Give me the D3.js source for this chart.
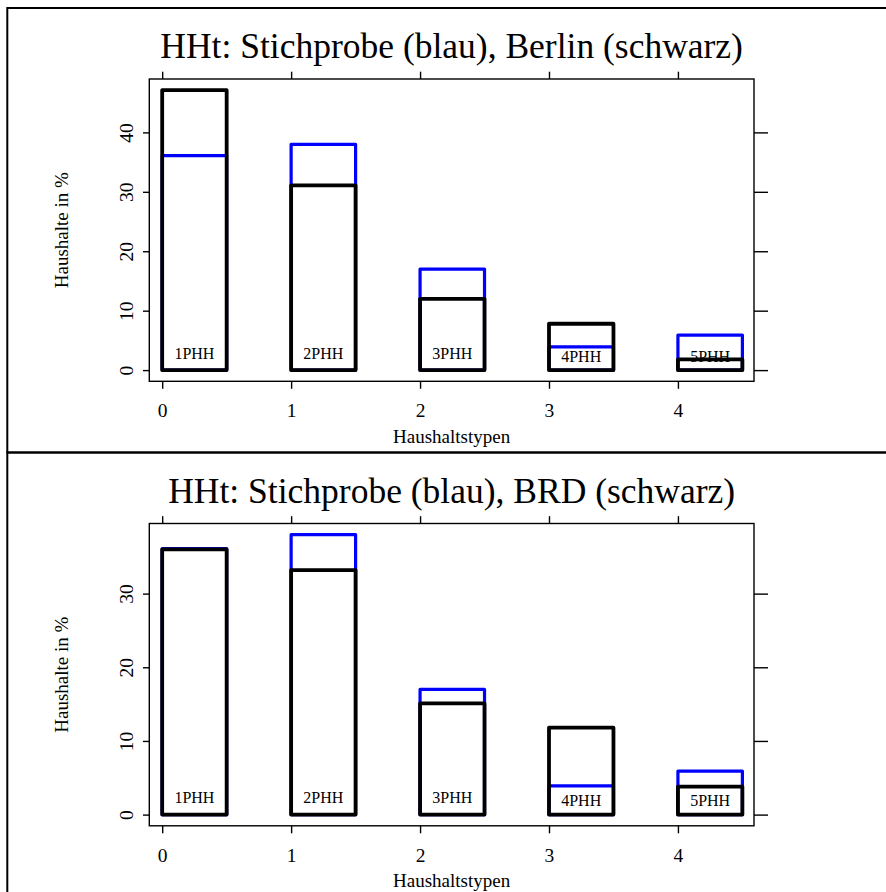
<!DOCTYPE html>
<html>
<head>
<meta charset="utf-8">
<script src="https://cdn.jsdelivr.net/npm/d3@7"></script>
<style>
  html, body { margin: 0; padding: 0; background: #fff; }
  svg { display: block; }
  text { font-family: "Liberation Serif", "Times New Roman", Times, serif; fill: #000; }
</style>
</head>
<body>
<svg id="chart" width="886" height="892"></svg>
<script>
// ---- data ----
const categories = ["1PHH", "2PHH", "3PHH", "4PHH", "5PHH"];
const xTickValues = [0, 1, 2, 3, 4];
const sampleValues = [36.1, 38.0, 17.0, 3.9, 5.9];      // Stichprobe (blau)
const berlinValues = [47.1, 31.1, 12.0, 7.8, 1.8];      // Berlin (schwarz)
const brdValues = [36.0, 33.2, 15.1, 11.8, 3.8];        // BRD (schwarz)
const yTicksBerlin = [0, 10, 20, 30, 40];
const yTicksBRD = [0, 10, 20, 30];
const titleBerlin = "HHt: Stichprobe (blau), Berlin (schwarz)";
const titleBRD = "HHt: Stichprobe (blau), BRD (schwarz)";
const xLabel = "Haushaltstypen";
const yLabel = "Haushalte in %";

// ---- layout ----
const serif = "'Liberation Serif', 'Times New Roman', Times, serif";
const svg = d3.select("#chart");
const panelH = 444.5;
const box = { left: 149.3, right: 754, top: 79, bottom: 381.3 };
const barWidth = 0.5;

function drawPanel(offsetY, title, blackValues, yTicks) {
  const g = svg.append("g").attr("transform", `translate(0,${offsetY})`);

  // outer frame
  g.append("rect")
    .attr("x", 7.3).attr("y", 8)
    .attr("width", 920).attr("height", panelH)
    .attr("fill", "none").attr("stroke", "#000").attr("stroke-width", 2);

  const maxV = d3.max(sampleValues.concat(blackValues));
  const x = d3.scaleLinear().domain([-0.1, 4.59]).range([box.left, box.right]);
  const y = d3.scaleLinear().domain([-0.04 * maxV, 1.04 * maxV]).range([box.bottom, box.top]);

  // title
  g.append("text")
    .attr("x", (box.left + box.right) / 2).attr("y", 58.3)
    .attr("text-anchor", "middle")
    .style("font-family", serif)
    .style("font-size", "35.5px")
    .text(title);

  // blue bars (sample)
  g.append("g").selectAll("rect").data(sampleValues).join("rect")
    .attr("x", (d, i) => x(i)).attr("width", (d, i) => x(i + barWidth) - x(i))
    .attr("y", d => y(d)).attr("height", d => y(0) - y(d))
    .attr("fill", "none").attr("stroke", "#0000ff").attr("stroke-width", 3.2)
    .attr("stroke-linejoin", "round");

  // category labels
  g.append("g").selectAll("text").data(categories).join("text")
    .attr("x", (d, i) => x(i + barWidth / 2))
    .attr("y", (d, i) => y(0) - (i < 3 ? 11.6 : 8.5))
    .attr("text-anchor", "middle")
    .style("font-family", serif)
    .style("font-size", "16px")
    .text(d => d);

  // black bars (reference population)
  g.append("g").selectAll("rect").data(blackValues).join("rect")
    .attr("x", (d, i) => x(i)).attr("width", (d, i) => x(i + barWidth) - x(i))
    .attr("y", d => y(d)).attr("height", d => y(0) - y(d))
    .attr("fill", "none").attr("stroke", "#000").attr("stroke-width", 3.8)
    .attr("stroke-linejoin", "round");

  // plot box
  g.append("rect")
    .attr("x", box.left).attr("y", box.top)
    .attr("width", box.right - box.left).attr("height", box.bottom - box.top)
    .attr("fill", "none").attr("stroke", "#000").attr("stroke-width", 1.4);

  // bottom axis
  const xb = g.append("g").attr("transform", `translate(0,${box.bottom})`)
    .call(d3.axisBottom(x).tickValues(xTickValues).tickSize(7.5).tickFormat(d3.format("d")));
  xb.select(".domain").remove();
  xb.selectAll("line").attr("stroke-width", 1.4);
  xb.selectAll("text").attr("y", 36.2).attr("dy", null)
    .style("font-size", "19.5px").style("font-family", serif);

  // top axis (ticks only)
  const xt = g.append("g").attr("transform", `translate(0,${box.top})`)
    .call(d3.axisTop(x).tickValues(xTickValues).tickSize(7.3).tickFormat(""));
  xt.select(".domain").remove();
  xt.selectAll("line").attr("stroke-width", 1.4);

  // left axis
  const yl = g.append("g").attr("transform", `translate(${box.left},0)`)
    .call(d3.axisLeft(y).tickValues(yTicks).tickSize(6.3).tickFormat(d3.format("d")));
  yl.select(".domain").remove();
  yl.selectAll("line").attr("stroke-width", 1.4);
  yl.selectAll("text")
    .attr("x", null).attr("dy", null)
    .attr("transform", "translate(-16,0) rotate(-90)")
    .attr("text-anchor", "middle")
    .style("font-size", "19.5px").style("font-family", serif);

  // right axis (ticks only)
  const yr = g.append("g").attr("transform", `translate(${box.right},0)`)
    .call(d3.axisRight(y).tickValues(yTicks).tickSize(14).tickFormat(""));
  yr.select(".domain").remove();
  yr.selectAll("line").attr("stroke-width", 1.4);

  // axis titles
  g.append("text")
    .attr("x", (box.left + box.right) / 2).attr("y", 442.5)
    .attr("text-anchor", "middle")
    .style("font-family", serif)
    .style("font-size", "19px")
    .text(xLabel);

  g.append("text")
    .attr("transform", `translate(68,${(box.top + box.bottom) / 2}) rotate(-90)`)
    .attr("text-anchor", "middle")
    .style("font-family", serif)
    .style("font-size", "19px")
    .text(yLabel);
}

drawPanel(0, titleBerlin, berlinValues, yTicksBerlin);
drawPanel(panelH, titleBRD, brdValues, yTicksBRD);
</script>
</body>
</html>
